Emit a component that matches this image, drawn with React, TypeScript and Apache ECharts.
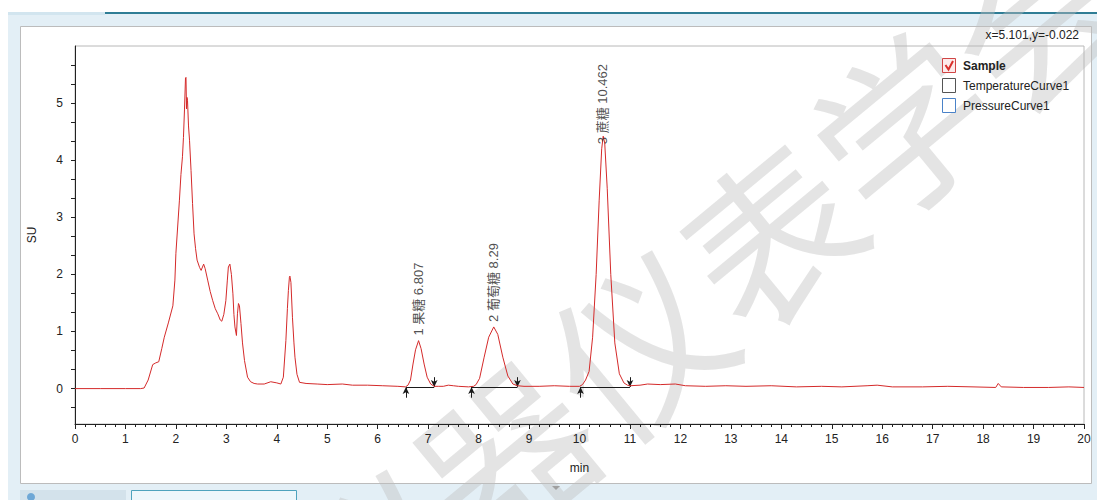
import React, { useEffect, useRef } from "react";
import * as echarts from "echarts";

// ---- chromatogram trace (retention time in min, signal in SU) ----
const retentionTimes = [
  0, 0.5, 1.0, 1.3, 1.37, 1.45, 1.54, 1.6, 1.66, 1.72, 1.77, 1.85, 1.94, 1.98, 2.0, 2.04, 2.07, 2.1, 2.13, 2.15,
  2.17, 2.19, 2.2, 2.21, 2.22, 2.23, 2.25, 2.27, 2.3, 2.33, 2.36, 2.39, 2.42, 2.47, 2.5, 2.55, 2.58, 2.63, 2.68, 2.73,
  2.78, 2.83, 2.88, 2.91, 2.95, 2.99, 3.02, 3.04, 3.07, 3.1, 3.13, 3.15, 3.17, 3.2, 3.22, 3.24, 3.26, 3.29, 3.32, 3.36,
  3.42, 3.48, 3.55, 3.62, 3.75, 3.88, 4.0, 4.08, 4.13, 4.18, 4.21, 4.23, 4.25, 4.26, 4.28, 4.31, 4.34, 4.36, 4.4, 4.45,
  4.58, 4.8, 5.0, 5.3, 5.5, 5.8, 6.1, 6.4, 6.55, 6.6, 6.65, 6.7, 6.75, 6.81, 6.86, 6.92, 6.98, 7.05, 7.12, 7.2,
  7.3, 7.4, 7.5, 7.6, 7.8, 7.9, 7.95, 8.02, 8.11, 8.2, 8.3, 8.38, 8.48, 8.58, 8.68, 8.77, 8.9, 9.2, 9.5, 9.8,
  10.0, 10.06, 10.12, 10.19, 10.26, 10.33, 10.39, 10.44, 10.47, 10.5, 10.55, 10.62, 10.7, 10.79, 10.88, 10.95, 11.0, 11.2, 11.35, 11.6,
  11.9, 12.1, 12.5, 12.9, 13.3, 13.8, 14.3, 14.8, 15.2, 15.7, 15.9, 16.2, 16.8, 17.3, 17.8, 18.25, 18.3, 18.36, 18.8, 19.3,
  19.7, 20,
];
const signal = [
  0, 0, 0, 0, 0.01, 0.15, 0.42, 0.45, 0.47, 0.7, 0.9, 1.15, 1.45, 1.9, 2.37, 2.9, 3.3, 3.75, 4.06, 4.4,
  4.88, 5.44, 5.45, 4.9, 5.1, 5.05, 4.6, 4.35, 3.82, 3.24, 2.71, 2.45, 2.25, 2.12, 2.07, 2.18, 2.1, 1.9, 1.7, 1.54,
  1.4, 1.31, 1.2, 1.18, 1.3, 1.54, 1.9, 2.13, 2.18, 2.0, 1.66, 1.3, 1.08, 0.93, 1.31, 1.49, 1.45, 1.14, 0.8, 0.49,
  0.2, 0.12, 0.09, 0.08, 0.08, 0.12, 0.1, 0.08, 0.2, 0.84, 1.4, 1.72, 1.95, 1.97, 1.86, 1.25, 0.8, 0.55, 0.25, 0.11,
  0.09, 0.08, 0.07, 0.08, 0.06, 0.06, 0.05, 0.04, 0.03, 0.06, 0.15, 0.43, 0.68, 0.84, 0.7, 0.43, 0.2, 0.08, 0.04, 0.04,
  0.04, 0.06, 0.05, 0.04, 0.03, 0.04, 0.07, 0.18, 0.55, 0.9, 1.08, 0.95, 0.55, 0.22, 0.08, 0.05, 0.04, 0.04, 0.05, 0.04,
  0.04, 0.07, 0.15, 0.3, 0.9, 2.0, 3.3, 4.2, 4.42, 4.3, 3.5, 2.0, 0.8, 0.26, 0.1, 0.06, 0.05, 0.06, 0.08, 0.07,
  0.08, 0.05, 0.04, 0.05, 0.04, 0.05, 0.03, 0.04, 0.03, 0.05, 0.06, 0.03, 0.03, 0.04, 0.03, 0.02, 0.09, 0.03, 0.02, 0.02,
  0.03, 0.02,
];

// ---- integrated peaks ----
const peakNames = ["1 果糖 6.807", "2 葡萄糖 8.29", "3 蔗糖 10.462"];
const peakTimes = [6.807, 8.29, 10.462];
const peakHeights = [0.84, 1.08, 4.42];
const baselineStart = [6.56, 7.86, 10.02];
const baselineEnd = [7.12, 8.77, 11.0];
const baselineLevel = [0.03, 0.03, 0.03];

// ---- axes ----
const yLabelValues = [0, 1, 2, 3, 4, 5];
const yTickValues = [
  -1 / 3, 0, 1 / 3, 2 / 3, 1, 4 / 3, 5 / 3, 2, 7 / 3, 8 / 3, 3, 10 / 3, 11 / 3, 4, 13 / 3, 14 / 3, 5, 16 / 3, 17 / 3,
];
const legendNames = ["Sample", "TemperatureCurve1", "PressureCurve1"];
const cursorText = "x=5.101,y=-0.022";
const watermarkText = "仪器仪表学会";

const FONT = "'Liberation Sans', Arial, 'Noto Sans CJK SC', sans-serif";

export default function App() {
  const ref = useRef<HTMLDivElement>(null);

  useEffect(() => {
    if (!ref.current) return;
    const chart = echarts.init(ref.current, null, { renderer: "svg" });

    const trace = retentionTimes.map((t, i) => [t, signal[i]]);

    const markLineData: any[] = [];
    baselineStart.forEach((s, i) => {
      const e = baselineEnd[i];
      const lv = baselineLevel[i];
      markLineData.push([
        { coord: [s, lv], symbol: "none" },
        { coord: [e, lv], symbol: "none" },
      ]);
      markLineData.push([
        { coord: [s, lv - 0.19], symbol: "none" },
        { coord: [s, lv], symbol: "arrow", symbolSize: [5, 7] },
      ]);
      markLineData.push([
        { coord: [e, lv + 0.17], symbol: "none" },
        { coord: [e, lv], symbol: "arrow", symbolSize: [5, 7] },
      ]);
    });

    const labelDistances = [5, 5, -8];
    const labelData = peakTimes.map((t, i) => ({
      value: [t, peakHeights[i]],
      name: peakNames[i],
      label: { distance: labelDistances[i] },
    }));

    const legendY = [58, 78, 98];
    const legendStroke = ["#d04545", "#555555", "#4a82c8"];
    const legendFill = ["#fdeaea", "#ffffff", "#ffffff"];

    const graphic: any[] = [
      { type: "rect", z: 0, silent: true, shape: { x: 8, y: 13, width: 1089, height: 487 }, style: { fill: "#e3eff6" } },
      { type: "rect", z: 0, silent: true, shape: { x: 8, y: 12, width: 97, height: 3 }, style: { fill: "#d2e5ef" } },
      { type: "line", z: 0, silent: true, shape: { x1: 105, y1: 13, x2: 1097, y2: 13 }, style: { stroke: "#2f7d95", lineWidth: 2 } },
      { type: "rect", z: 0, silent: true, shape: { x: 20.5, y: 26.5, width: 1071, height: 457 }, style: { fill: "#ffffff", stroke: "#bcbcbc", lineWidth: 1 } },
      { type: "rect", z: 0, silent: true, shape: { x: 20, y: 490, width: 106, height: 12 }, style: { fill: "#d3e2eb" } },
      { type: "circle", z: 0, silent: true, shape: { cx: 31, cy: 497, r: 4 }, style: { fill: "#6fa8d6" } },
      { type: "rect", z: 0, silent: true, shape: { x: 131.5, y: 490.5, width: 165, height: 12 }, style: { fill: "#eef7fb", stroke: "#4fa3bd", lineWidth: 1 } },
      { type: "polygon", z: 0, silent: true, shape: { points: [[552, 486], [560, 486], [556, 490]] }, style: { fill: "#8a8a8a" } },
      {
        type: "text", z: 1, silent: true, x: 700, y: 285, rotation: 0.69,
        style: {
          text: watermarkText, fill: "rgba(190,190,190,0.42)", fontSize: 172,
          fontFamily: "'Noto Sans CJK SC', sans-serif", align: "center", verticalAlign: "middle",
        },
      },
      {
        type: "text", z: 10, silent: true, x: 1079, y: 35,
        style: { text: cursorText, fill: "#222", fontSize: 12, fontFamily: FONT, align: "right", verticalAlign: "middle" },
      },
    ];
    legendNames.forEach((name, i) => {
      graphic.push({
        type: "rect", z: 10, silent: true,
        shape: { x: 942.5, y: legendY[i] + 0.5, width: 13, height: 14 },
        style: { fill: legendFill[i], stroke: legendStroke[i], lineWidth: 1 },
      });
      graphic.push({
        type: "text", z: 10, silent: true, x: 963, y: legendY[i] + 7.5,
        style: {
          text: name, fill: "#222", fontSize: 12, fontFamily: FONT,
          fontWeight: i === 0 ? "bold" : "normal", align: "left", verticalAlign: "middle",
        },
      });
    });
    graphic.push({
      type: "polyline", z: 11, silent: true,
      shape: { points: [[945.5, 65], [948.5, 69.5], [953, 61]] },
      style: { stroke: "#d9302c", lineWidth: 2, fill: null },
    });

    chart.setOption({
      animation: false,
      backgroundColor: "#ffffff",
      textStyle: { fontFamily: FONT },
      graphic,
      grid: {
        left: 75, right: 13, top: 46, bottom: 76, show: true, z: 2,
        backgroundColor: "transparent", borderColor: "#b8b8b8", borderWidth: 1,
      },
      xAxis: {
        type: "value", min: 0, max: 20, interval: 1, z: 5,
        name: "min", nameLocation: "middle", nameGap: 38,
        nameTextStyle: { color: "#222", fontSize: 12, fontFamily: FONT },
        axisLine: { show: true, onZero: false, lineStyle: { color: "#222", width: 1 } },
        axisTick: { show: true, length: 5, lineStyle: { color: "#222" } },
        minorTick: { show: true, splitNumber: 5, length: 3, lineStyle: { color: "#222" } },
        axisLabel: { color: "#222", fontSize: 12, margin: 9, fontFamily: FONT },
        splitLine: { show: false },
      },
      yAxis: {
        type: "value", min: -0.62, max: 6, z: 5,
        name: "SU", nameLocation: "middle", nameGap: 37, nameRotate: 90,
        nameTextStyle: { color: "#222", fontSize: 12, fontFamily: FONT },
        axisLine: { show: true, onZero: false, lineStyle: { color: "#222", width: 1 } },
        axisTick: { show: true, length: 4, customValues: yTickValues, lineStyle: { color: "#222" } },
        axisLabel: { color: "#222", fontSize: 12, margin: 12, customValues: yLabelValues, fontFamily: FONT },
        splitLine: { show: false },
      },
      series: [
        {
          name: "Sample", type: "line", z: 6, data: trace, showSymbol: false, symbol: "none",
          lineStyle: { color: "#d42a2a", width: 1 }, itemStyle: { color: "#d42a2a" },
          silent: true,
          markLine: {
            silent: true, animation: false, symbol: "none",
            label: { show: false },
            lineStyle: { color: "#1a1a1a", width: 1, type: "solid" },
            itemStyle: { color: "#1a1a1a" },
            emphasis: { disabled: true },
            data: markLineData,
          },
        },
        {
          name: "peaks", type: "scatter", z: 7, data: labelData, symbolSize: 0.1,
          itemStyle: { color: "transparent" }, silent: true,
          label: {
            show: true, position: "top", rotate: 90, align: "left", verticalAlign: "middle",
            formatter: (p: any) => p.name, color: "#222", fontSize: 13,
            fontFamily: "'Liberation Sans', 'Noto Sans CJK SC', sans-serif",
          },
        },
      ],
    });

    return () => chart.dispose();
  }, []);

  return (
    <div
      ref={ref}
      style={{ position: "absolute", left: 0, top: 0, width: 1097, height: 500 }}
    />
  );
}
